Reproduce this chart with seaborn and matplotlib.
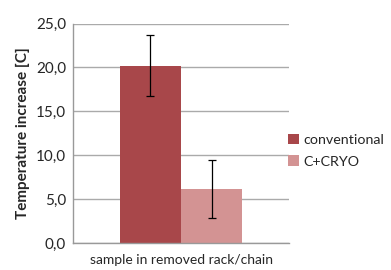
import matplotlib
matplotlib.use("Agg")
import matplotlib.pyplot as plt
import seaborn as sns
import pandas as pd
import numpy as np
from matplotlib.ticker import FixedLocator

categories = ["sample in removed rack/chain"]
series = ["conventional", "C+CRYO"]
values = [20.2, 6.1]
errors = [3.5, 3.3]
yticks = [0, 5, 10, 15, 20, 25]
ytick_labels = ["0,0", "5,0", "10,0", "15,0", "20,0", "25,0"]
colors = ["#A8474A", "#D39393"]

df = pd.DataFrame({"cat": categories * len(series), "series": series, "value": values})

sns.set_theme(style="white")
plt.rcParams['font.family'] = ['Lato', 'DejaVu Sans']

fig = plt.figure(figsize=(3.91, 2.70), dpi=100)
ax = fig.add_axes([73/391, 1 - 243/270, 216/391, (243 - 23.5)/270])

sns.barplot(data=df, x="cat", y="value", hue="series", palette=colors,
            width=0.565, errorbar=None, ax=ax, legend=True, saturation=1,
            linewidth=0)

for patch, v, e in zip(ax.patches[:len(values)], values, errors):
    cx = patch.get_x() + patch.get_width() / 2
    ax.errorbar(cx, v, yerr=e, fmt="none", ecolor="black", elinewidth=0.9,
                capsize=3, capthick=0.9, zorder=5)

ax.set_xlim(-0.5, 0.5)
ax.set_ylim(0, 25)
ax.set_yticks(yticks)
ax.set_yticklabels(ytick_labels, fontsize=11)
ax.set_xticks([0])
ax.set_xticklabels(categories, fontsize=10)
ax.tick_params(axis="x", length=0, pad=8)
ax.tick_params(axis="y", length=3, color="#999999", width=1, pad=2)
ax.yaxis.grid(True, color="#AAAAAA", linewidth=1)
ax.set_axisbelow(True)
ax.set_xlabel("")
ax.set_ylabel("Temperature increase [C]", fontsize=11, fontweight="bold", labelpad=4)

for s in ["top", "right"]:
    ax.spines[s].set_visible(False)
for s in ["left", "bottom"]:
    ax.spines[s].set_color("#999999")
    ax.spines[s].set_linewidth(1)

ax.xaxis.set_minor_locator(FixedLocator([-0.5, 0.5]))
ax.tick_params(axis="x", which="minor", length=4, color="#999999", width=1)

handles, labels = ax.get_legend_handles_labels()
ax.legend(handles, labels, loc="center left", bbox_to_anchor=(0.995, 0.42),
          frameon=False, fontsize=10.3, handlelength=0.75, handleheight=0.75,
          handletextpad=0.35, labelspacing=0.65, borderaxespad=0, borderpad=0)

fig.savefig("out.png", dpi=100)
